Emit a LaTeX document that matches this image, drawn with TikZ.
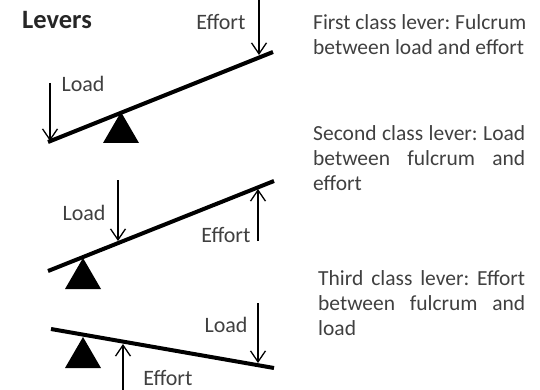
\documentclass[tikz,border=0pt]{standalone}
\usepackage{fontspec}
\setmainfont{Carlito}
\usepackage{xcolor}
\usepackage{tikz}
\usetikzlibrary{arrows.meta,positioning,calc}
\frenchspacing
\definecolor{ink}{gray}{0.25}
\tikzstyle{lever} = [line width=4pt, black]
\tikzstyle{force} = [line width=1.3pt, black, -{Straight Barb[length=11pt,width=15pt,line width=1.3pt]}]
\tikzstyle{fulcrum} = [fill=black]
\tikzstyle{lbl} = [inner sep=0pt, text=ink, font=\fontsize{22}{25}\selectfont]
\tikzstyle{desc} = [inner sep=0pt, text=ink, align=left, anchor=base west, font=\fontsize{21.5}{25}\selectfont]

\begin{document}
\begin{tikzpicture}[x=1pt,y=-1pt]
    \useasboundingbox (0,0) rectangle (540,390);
    \node[inner sep=0pt, font=\fontsize{26.5}{30}\selectfont\bfseries, text=black!85] (title) at (57,20) {Levers};
    % first class
    \coordinate (l1a) at (48,142); \coordinate (l1b) at (273,52);
    \draw[lever] (l1a) -- (l1b);
    \coordinate (f1) at (121,112);
    \fill[fulcrum] (f1) -- ++(-18,31) -- ++(36,0) -- cycle;
    \coordinate (e1s) at (259,0); \coordinate (e1t) at (259,55);
    \draw[force] (e1s) -- (e1t);
    \coordinate (w1s) at (50,83); \coordinate (w1t) at (50,141);
    \draw[force] (w1s) -- (w1t);
    \node[lbl] (effort1) at (221,22) {Effort};
    \node[lbl] (load1) at (83,84) {Load};
    \node[desc] (first) at (313,55) {First class lever: Fulcrum\\between load and effort};
    % second class
    \coordinate (l2a) at (48,271); \coordinate (l2b) at (274,181);
    \draw[lever] (l2a) -- (l2b);
    \coordinate (f2) at (83,258);
    \fill[fulcrum] (f2) -- ++(-18,31) -- ++(36,0) -- cycle;
    \coordinate (w2s) at (118,180); \coordinate (w2t) at (118,241);
    \draw[force] (w2s) -- (w2t);
    \coordinate (e2s) at (258,241); \coordinate (e2t) at (258,189);
    \draw[force] (e2s) -- (e2t);
    \node[lbl] (load2) at (84,213) {Load};
    \node[lbl] (effort2) at (226,235) {Effort};
    \node[desc] (second) at (313,190) {\makebox[212pt][s]{Second class lever: Load}\\\makebox[212pt][s]{between fulcrum and}\\effort};
    % third class
    \coordinate (l3a) at (51,329); \coordinate (l3b) at (274,368);
    \draw[lever] (l3a) -- (l3b);
    \coordinate (f3) at (83,337);
    \fill[fulcrum] (f3) -- ++(-18,31) -- ++(36,0) -- cycle;
    \coordinate (w3s) at (258,303); \coordinate (w3t) at (258,363);
    \draw[force] (w3s) -- (w3t);
    \coordinate (e3s) at (123,392); \coordinate (e3t) at (123,344);
    \draw[force] (e3s) -- (e3t);
    \node[lbl] (load3) at (226,325) {Load};
    \node[lbl] (effort3) at (168,378) {Effort};
    \node[desc] (third) at (318,335) {\makebox[207pt][s]{Third class lever: Effort}\\\makebox[207pt][s]{between fulcrum and}\\load};
\end{tikzpicture}
\end{document}
